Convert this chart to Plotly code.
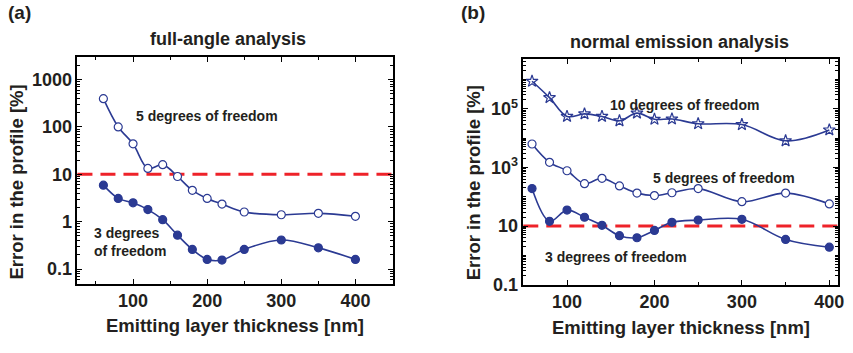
import numpy as np
import plotly.graph_objects as go

# ---------------- data ----------------
thickness = [60, 80, 100, 120, 140, 160, 180, 200, 220, 250, 300, 350, 400]

# (a) full-angle analysis
full_5dof = [395, 100, 44, 13.3, 16, 9, 4.6, 3.1, 2.35, 1.6, 1.4, 1.5, 1.3]
full_3dof = [5.9, 3.1, 2.5, 1.8, 1.1, 0.52, 0.26, 0.16, 0.155, 0.26, 0.41, 0.28, 0.16]

# (b) normal emission analysis
norm_10dof = [8.7e5, 2.4e5, 5.5e4, 6.7e4, 5.5e4, 3.9e4, 7.1e4, 4.4e4, 4.5e4, 3.1e4, 2.9e4, 8.1e3, 1.9e4]
norm_5dof = [6300, 1500, 770, 280, 425, 235, 133, 110, 137, 190, 68, 133, 57]
norm_3dof = [190, 14.5, 35, 20, 10.6, 4.7, 4.0, 7.1, 13.4, 16, 17, 3.5, 1.9]

threshold = 10

left_yticks = [0.1, 1, 10, 100, 1000]
left_yticktext = ["0.1", "1", "10", "100", "1000"]
right_yticks = [0.1, 10, 1e3, 1e5]
right_yticktext = ["0.1", "10", "10<sup>3</sup>", "10<sup>5</sup>"]
right_unlabeled_decades = [1, 100, 1e4, 1e6]
xticks = [100, 200, 300, 400]

# ---------------- style ----------------
BLUE = "#2B3A93"
RED = "#EE2229"
TXT = "#231F20"
FONT = "Liberation Sans, Arial, sans-serif"

fig = go.Figure()

def line_trace(x, y, xa, ya, symbol, fill):
    return go.Scatter(
        x=x, y=y, xaxis=xa, yaxis=ya, mode="lines+markers",
        line=dict(color=BLUE, width=1.6, shape="spline", smoothing=1.0),
        marker=dict(symbol=symbol, size=8 if "star" not in symbol else 9,
                    color=fill, line=dict(color=BLUE, width=1.2)),
        showlegend=False, hoverinfo="skip")

fig.add_trace(line_trace(thickness, full_5dof, "x", "y", "circle", "white"))
fig.add_trace(line_trace(thickness, full_3dof, "x", "y", "circle", BLUE))
fig.add_trace(line_trace(thickness, norm_10dof, "x2", "y2", "star-open", BLUE))
fig.add_trace(line_trace(thickness, norm_5dof, "x2", "y2", "circle", "white"))
fig.add_trace(line_trace(thickness, norm_3dof, "x2", "y2", "circle", BLUE))

# threshold lines
for xr, yr in [("x domain", "y"), ("x2 domain", "y2")]:
    fig.add_shape(type="line", xref=xr, yref=yr, x0=0, x1=1,
                  y0=threshold, y1=threshold,
                  line=dict(color=RED, width=3, dash="15px,8px"), layer="below")

def minor_vals(lo, hi):
    return [k * 10.0 ** d for d in range(lo, hi) for k in range(2, 10)]

tickfont = dict(family=FONT, size=18, color=TXT, weight="bold")
common_axis = dict(showline=True, linecolor="black", linewidth=1.5, mirror="allticks",
                   ticks="inside", tickcolor="black", showgrid=False, zeroline=False,
                   tickfont=tickfont)

W, H = 853, 353
def dx(a, b):
    return [a / W, b / W]
def dy(top, bottom):
    return [1 - bottom / H, 1 - top / H]

fig.update_layout(
    width=W, height=H, margin=dict(l=0, r=0, t=0, b=0),
    paper_bgcolor="white", plot_bgcolor="white",
    xaxis=dict(domain=dx(78, 396), range=[25, 451], tickvals=xticks, ticklen=5, tickwidth=1.2,
               minor=dict(tickvals=[50, 150, 250, 350, 450], ticks="inside", ticklen=3,
                          tickcolor="black", tickwidth=1),
               anchor="y", **common_axis),
    yaxis=dict(domain=dy(59, 292), type="log", range=[-1.31, 3.47], tickvals=left_yticks,
               ticktext=left_yticktext, ticklen=5, tickwidth=1.2,
               minor=dict(tickvals=minor_vals(-2, 4), ticks="inside", ticklen=3,
                          tickcolor="black", tickwidth=1),
               anchor="x", **common_axis),
    xaxis2=dict(domain=dx(527, 844), range=[50, 410], tickvals=xticks, ticklen=5, tickwidth=1.2,
                minor=dict(tickvals=[150, 250, 350], ticks="inside", ticklen=3,
                           tickcolor="black", tickwidth=1),
                anchor="y2", **common_axis),
    yaxis2=dict(domain=dy(61, 293), type="log", range=[-1.0, 6.69], tickvals=right_yticks,
                ticktext=right_yticktext, ticklen=5, tickwidth=1.2,
                minor=dict(tickvals=minor_vals(-1, 7) + right_unlabeled_decades, ticks="inside",
                           ticklen=3, tickcolor="black", tickwidth=1),
                anchor="x2", **common_axis),
)

def ann(text, x, y, size, xanchor="center", angle=0, weight="bold", align="center"):
    fig.add_annotation(text=text, x=x / W, y=1 - y / H, xref="paper", yref="paper",
                       showarrow=False, xanchor=xanchor, yanchor="middle", textangle=angle,
                       align=align,
                       font=dict(family=FONT, size=size, color=TXT, weight=weight))

# panel labels and titles
ann("(a)", 20, 13, 19)
ann("(b)", 476, 13, 19)
ann("full-angle analysis", 230, 40, 18)
ann("normal emission analysis", 684, 43, 18)

# axis titles
ann("Error in the profile [%]", 17, 187, 18.5, angle=-90)
ann("Error in the profile [%]", 477, 188, 18.5, angle=-90)
ann("Emitting layer thickness [nm]", 237, 335, 18.5)
ann("Emitting layer thickness [nm]", 686, 337, 18.5)

# series labels
ann("5 degrees of freedom", 135, 119, 14, xanchor="left")
ann("3 degrees<br>of freedom", 93, 249, 14, xanchor="left", align="left")
ann("10 degrees of freedom", 689, 108, 14)
ann("5 degrees of freedom", 729, 183, 14)
ann("3 degrees of freedom", 620, 264, 14)

fig.write_html("out.html")
